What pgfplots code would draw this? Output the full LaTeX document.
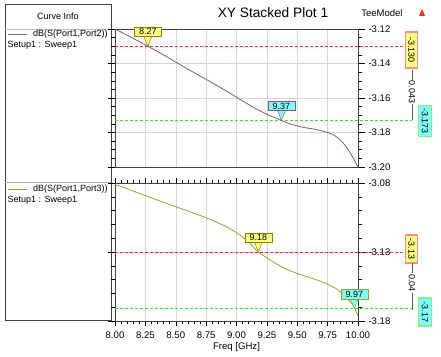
\documentclass[border=0pt]{standalone}
\usepackage{fontspec}
\setmainfont{Liberation Sans}
\usepackage{pgfplots}
\pgfplotsset{compat=1.18}
\definecolor{sone}{HTML}{8E5377}
\definecolor{sthree}{HTML}{A09E30}
\definecolor{mkred}{HTML}{FF2A2A}
\definecolor{mkgreen}{HTML}{30E830}
\definecolor{cyellow}{HTML}{FFFF80}
\definecolor{ccyan}{HTML}{80FFFF}
\definecolor{frame}{HTML}{404040}
\definecolor{gridc}{HTML}{D6D6D6}
\newcommand{\callout}[5]{%
  \draw[fill=#4, draw=#5, line width=0.5pt] (axis cs:#1,#2) -- ([xshift=-4pt,yshift=10pt]axis cs:#1,#2) -- ([xshift=4pt,yshift=10pt]axis cs:#1,#2) -- cycle;
  \node[fill=#4, draw=#5, line width=0.5pt, inner sep=0pt, minimum width=27pt, minimum height=9.5pt, anchor=south, font=\fontsize{9}{10}\selectfont] at ([yshift=9.5pt]axis cs:#1,#2) {#3};}
\pgfplotsset{stk/.style={
  scale only axis, width=243pt, height=138pt, xmin=8, xmax=10, clip=false,
  axis line style={frame, line width=0.9pt},
  grid style={draw=gridc, line width=0.5pt},
  xtick={8,8.25,8.5,8.75,9,9.25,9.5,9.75,10},
  xmajorgrids, ymajorgrids, yticklabel pos=right,
  tick align=outside, tick style={black, line width=0.5pt},
  major tick length=7pt, minor tick length=4pt,
  ticklabel style={font=\fontsize{9.6}{11}\selectfont},
  /pgf/number format/assume math mode=true,
  yticklabel style={/pgf/number format/fixed, /pgf/number format/precision=2, /pgf/number format/fixed zerofill},
  xticklabel style={/pgf/number format/fixed, /pgf/number format/precision=2, /pgf/number format/fixed zerofill},
}}
\begin{document}
\begin{tikzpicture}[x=1pt,y=1pt]
\path[use as bounding box] (0,0) rectangle (441,356);
\fill[white] (0,0) rectangle (441,356);
% left panel
\draw[frame, line width=0.8pt] (5,36) rectangle (111,352);
\draw[gray!50, line width=0.5pt] (5,327) -- (111,327);
\draw[gray!60, line width=0.5pt] (5,174) -- (111,174);
\node[font=\fontsize{9}{10}\selectfont] at (58,340) {Curve Info};
\draw[sone, line width=1pt] (8,321) -- (27,321);
\node[anchor=west, inner sep=0pt, font=\fontsize{9}{10}\selectfont] at (33,321.5) {dB(S(Port1,Port2))};
\node[anchor=west, inner sep=0pt, font=\fontsize{9}{10}\selectfont] at (7.5,311) {Setup1 : Sweep1};
\draw[sthree, line width=1pt] (8,166) -- (27,166);
\node[anchor=west, inner sep=0pt, font=\fontsize{9}{10}\selectfont] at (33,166.5) {dB(S(Port1,Port3))};
\node[anchor=west, inner sep=0pt, font=\fontsize{9}{10}\selectfont] at (7.5,156) {Setup1 : Sweep1};
% title
\node[font=\fontsize{13.7}{15}\selectfont] at (273,343) {XY Stacked Plot 1};
\node[font=\fontsize{9.5}{11}\selectfont] at (382,342.5) {TeeModel};
\fill[mkred] (419,340) -- (422,347) -- (425,340) -- cycle;
% top axis
\begin{axis}[stk, at={(115pt,189pt)}, anchor=south west,
  ymin=-3.20, ymax=-3.12, ytick={-3.20,-3.18,-3.16,-3.14,-3.12}, minor y tick num=3,
  xticklabels={}, xtick style={draw=none}]
\addplot[mkred, line width=0.7pt, dash pattern=on 3pt off 2pt, forget plot] coordinates {(8,-3.13) (10.387,-3.13)};
\addplot[mkgreen, line width=0.7pt, dash pattern=on 3pt off 2pt, forget plot] coordinates {(8,-3.173) (10.444,-3.173)};
\addplot[sone, line width=0.8pt, smooth] coordinates {
(8.00,-3.1200) (8.10,-3.1236) (8.20,-3.1273) (8.27,-3.1300) (8.40,-3.1350) (8.50,-3.1392)
(8.60,-3.1433) (8.70,-3.1472) (8.80,-3.1512) (8.90,-3.1553) (9.00,-3.1595) (9.10,-3.1638)
(9.20,-3.1677) (9.30,-3.1710) (9.37,-3.1730) (9.45,-3.1752) (9.55,-3.1770) (9.65,-3.1782)
(9.75,-3.1800) (9.80,-3.1815) (9.85,-3.1840) (9.90,-3.1880) (9.95,-3.1935) (10.00,-3.2000)};
\callout{8.27}{-3.13}{8.27}{cyellow}{olive}
\callout{9.37}{-3.173}{9.37}{ccyan}{sone}
\end{axis}
% bottom axis
\begin{axis}[stk, at={(115pt,35pt)}, anchor=south west,
  ymin=-3.18, ymax=-3.08, ytick={-3.18,-3.13,-3.08}, minor y tick num=4,
  minor x tick num=4, xtick style={/pgfplots/major tick length=5pt, /pgfplots/minor tick length=3pt},
  xlabel={Freq [GHz]}, xlabel style={font=\fontsize{9.6}{11}\selectfont, inner sep=1pt}]
\addplot[mkred, line width=0.7pt, dash pattern=on 3pt off 2pt, forget plot] coordinates {(8,-3.13) (10.387,-3.13)};
\addplot[mkgreen, line width=0.7pt, dash pattern=on 3pt off 2pt, forget plot] coordinates {(8,-3.171) (10.444,-3.171)};
\addplot[sthree, line width=0.8pt, smooth] coordinates {
(8.00,-3.0810) (8.10,-3.0842) (8.20,-3.0875) (8.30,-3.0908) (8.40,-3.0940) (8.50,-3.0972)
(8.60,-3.1003) (8.70,-3.1035) (8.80,-3.1070) (8.90,-3.1110) (9.00,-3.1160) (9.10,-3.1228)
(9.18,-3.1300) (9.30,-3.1370) (9.40,-3.1420) (9.50,-3.1455) (9.60,-3.1485) (9.70,-3.1515)
(9.80,-3.1555) (9.85,-3.1585) (9.90,-3.1625) (9.95,-3.1675) (9.97,-3.1705) (10.00,-3.1760)};
\callout{9.18}{-3.13}{9.18}{cyellow}{olive}
\callout{9.97}{-3.171}{9.97}{ccyan}{sthree}
\end{axis}
% right-hand value labels, top
\node[rotate=-90, fill=cyellow, draw=mkred!55, line width=1.6pt, inner sep=0pt, minimum width=36pt, minimum height=12pt, font=\fontsize{9}{10}\selectfont] at (411.5,306) {-3.130};
\node[rotate=-90, fill=ccyan, draw=mkgreen!60, line width=1.6pt, inner sep=0pt, minimum width=31pt, minimum height=13pt, font=\fontsize{9}{10}\selectfont] at (425,235) {-3.173};
\draw[gray!70!black, line width=0.5pt] (412,286) -- (412,236);
\node[rotate=-90, fill=white, inner sep=1pt, font=\fontsize{9}{10}\selectfont] at (412,264) {0.043};
% right-hand value labels, bottom
\node[rotate=-90, fill=cyellow, draw=mkred!55, line width=1.6pt, inner sep=0pt, minimum width=28pt, minimum height=12pt, font=\fontsize{9}{10}\selectfont] at (411.5,107) {-3.13};
\node[rotate=-90, fill=ccyan, draw=mkgreen!60, line width=1.6pt, inner sep=0pt, minimum width=28pt, minimum height=13pt, font=\fontsize{9}{10}\selectfont] at (425,44) {-3.17};
\draw[gray!70!black, line width=0.5pt] (412,93) -- (412,46);
\node[rotate=-90, fill=white, inner sep=1pt, font=\fontsize{9}{10}\selectfont] at (412,73) {0.04};
\end{tikzpicture}
\end{document}
